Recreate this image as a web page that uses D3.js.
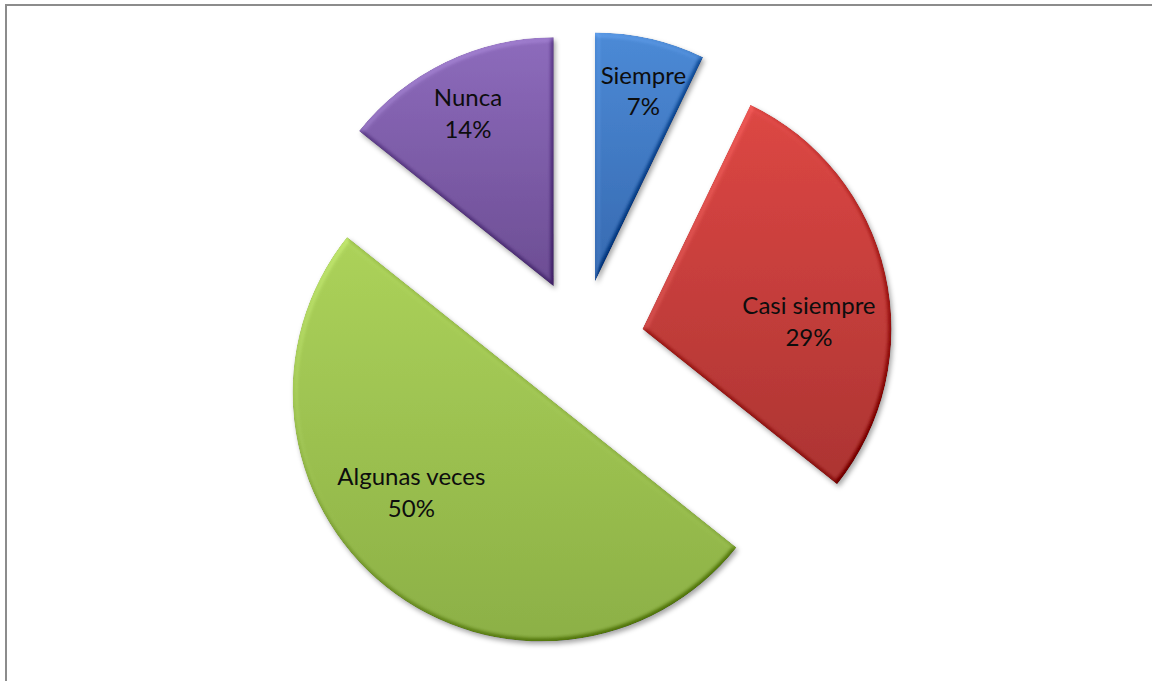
<!DOCTYPE html>
<html>
<head>
<meta charset="utf-8">
<script src="https://cdn.jsdelivr.net/npm/d3@7/dist/d3.min.js"></script>
<style>
  html, body { margin: 0; padding: 0; background: #fff; }
  svg { display: block; }
</style>
</head>
<body>
<svg id="chart" width="1152" height="681"></svg>
<script>
// Responses per answer category
const categories = ["Siempre", "Casi siempre", "Algunas veces", "Nunca"];
const counts = [1, 4, 7, 2];

// Fill ramps (lighter top, darker bottom) per category
const topColors = ["#4a88d4", "#db4542", "#aad058", "#8b69ba"];
const bottomColors = ["#3467ae", "#aa3230", "#8aae44", "#6a4b91"];

// Layout
const W = 1152, H = 681;
const cx = 581, cy = 343;
const radius = 249;
const explode = 63;
// label placement: fraction of radius and angular shift (deg) from the slice middle
const labelRadial = [0.80, 0.67, 0.655, 0.785];
const labelShift = [1.2, 9.5, 14.5, -0.3];

const svg = d3.select("#chart");
const defs = svg.append("defs");

// chart frame
svg.append("rect")
  .attr("x", 6).attr("y", 5)
  .attr("width", W + 10).attr("height", H + 10)
  .attr("fill", "none")
  .attr("stroke", "#8c8c8c")
  .attr("stroke-width", 2);

// soft bevel lighting
const bevel = defs.append("filter")
  .attr("id", "bevel")
  .attr("x", "-5%").attr("y", "-5%").attr("width", "110%").attr("height", "110%")
  .attr("color-interpolation-filters", "sRGB");
bevel.append("feGaussianBlur").attr("in", "SourceAlpha").attr("stdDeviation", 2.4).attr("result", "b");
const diff = bevel.append("feDiffuseLighting")
  .attr("in", "b").attr("surfaceScale", 4).attr("diffuseConstant", 1)
  .attr("lighting-color", "#ffffff").attr("result", "d");
diff.append("feDistantLight").attr("azimuth", 235).attr("elevation", 50);
bevel.append("feComposite")
  .attr("in", "SourceGraphic").attr("in2", "d")
  .attr("operator", "arithmetic")
  .attr("k1", 0).attr("k2", 1).attr("k3", 0.32).attr("k4", -0.32 * Math.sin(50 * Math.PI / 180) + 0.01)
  .attr("result", "lit");
bevel.append("feComposite").attr("in", "lit").attr("in2", "SourceAlpha").attr("operator", "in");

// drop shadow
const shadow = defs.append("filter")
  .attr("id", "shadow")
  .attr("x", "-10%").attr("y", "-10%").attr("width", "120%").attr("height", "120%");
shadow.append("feDropShadow")
  .attr("dx", 2).attr("dy", 3).attr("stdDeviation", 2.5)
  .attr("flood-color", "#000").attr("flood-opacity", 0.35);

categories.forEach((c, i) => {
  const g = defs.append("linearGradient")
    .attr("id", "grad" + i)
    .attr("x1", 0).attr("y1", 0).attr("x2", 0).attr("y2", 1);
  g.append("stop").attr("offset", "0%").attr("stop-color", topColors[i]);
  g.append("stop").attr("offset", "100%").attr("stop-color", bottomColors[i]);
});

const data = categories.map((c, i) => ({ name: c, value: counts[i], idx: i }));
const total = d3.sum(counts);
const pct = d3.format(".0%");

const pie = d3.pie().sort(null).value(d => d.value).startAngle(0).endAngle(2 * Math.PI);
const arcs = pie(data);
const arc = d3.arc().innerRadius(0).outerRadius(radius);

const root = svg.append("g").attr("transform", `translate(${cx},${cy})`);

const slices = root.selectAll("g.slice")
  .data(arcs)
  .join("g")
  .attr("class", "slice")
  .attr("transform", d => {
    const mid = (d.startAngle + d.endAngle) / 2;
    return `translate(${explode * Math.sin(mid)},${-explode * Math.cos(mid)})`;
  });

slices.append("g")
  .attr("filter", "url(#shadow)")
  .append("path")
  .attr("d", arc)
  .attr("fill", d => `url(#grad${d.data.idx})`)
  .attr("filter", "url(#bevel)");

slices.each(function (d) {
  const i = d.data.idx;
  const mid = (d.startAngle + d.endAngle) / 2 + labelShift[i] * Math.PI / 180;
  const rr = radius * labelRadial[i];
  const x = rr * Math.sin(mid), y = -rr * Math.cos(mid);
  const t = d3.select(this).append("text")
    .attr("x", x).attr("y", y)
    .attr("text-anchor", "middle")
    .attr("font-family", "Lato, 'Open Sans', sans-serif")
    .attr("font-size", 24)
    .attr("fill", "#0d0d0d");
  t.append("tspan").attr("x", x).attr("dy", "-0.2em").text(d.data.name);
  t.append("tspan").attr("x", x).attr("dy", "1.33em").text(pct(d.data.value / total));
});
</script>
</body>
</html>
